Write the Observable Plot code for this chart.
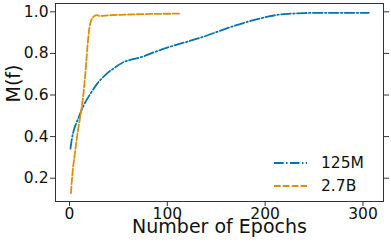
<!DOCTYPE html>
<html>
<head>
<meta charset="utf-8">
<script src="https://cdn.jsdelivr.net/npm/d3@7"></script>
<script src="https://cdn.jsdelivr.net/npm/@observablehq/plot@0.6"></script>
<style>
  html, body { margin: 0; padding: 0; background: #fff; overflow: hidden; }
  #wrap { position: relative; width: 391px; height: 247px; font-family: "DejaVu Sans", sans-serif; }
  #wrap svg.chart { position: absolute; left: 0; top: 0; max-width: none !important; width: 391px; height: 247px; }
  #legend { position: absolute; left: 273px; top: 151px; font-size: 15.5px; color: #111; }
  .row { display: flex; align-items: center; height: 23px; }
  .row svg { margin-right: 14px; }
</style>
</head>
<body>
<div id="wrap"><div id="legend"></div></div>
<script>
const seriesNames = ["125M", "2.7B"];
const colors = ["#0173b2", "#de8f05"];

const epochs125 = [1, 2.5, 4.4, 7, 9.5, 14.6, 21.5, 28.4, 36.8, 47, 56.6, 65, 75, 86, 100, 120, 140, 155, 170, 185, 195, 205, 215, 226, 240, 254, 280, 306];
const m125 = [0.342, 0.39, 0.43, 0.465, 0.494, 0.551, 0.607, 0.655, 0.697, 0.734, 0.761, 0.772, 0.785, 0.805, 0.828, 0.856, 0.885, 0.911, 0.935, 0.956, 0.968, 0.979, 0.987, 0.991, 0.994, 0.995, 0.995, 0.995];

const epochs27 = [1.5, 3, 5.5, 9, 12.3, 15, 17, 18.5, 20, 21.5, 23, 25, 28, 31, 40, 60, 85, 112];
const m27 = [0.128, 0.22, 0.32, 0.44, 0.535, 0.64, 0.75, 0.84, 0.91, 0.95, 0.968, 0.978, 0.984, 0.98, 0.983, 0.987, 0.99, 0.991];

const xTicks = [0, 100, 200, 300];
const yTicks = [0.2, 0.4, 0.6, 0.8, 1.0];

const d125 = epochs125.map((e, i) => ({epoch: e, m: m125[i]}));
const d27 = epochs27.map((e, i) => ({epoch: e, m: m27[i]}));

const font = "DejaVu Sans";
const fmt = d3.format(".1f");
const chart = Plot.plot({
  width: 391,
  height: 247,
  marginLeft: 55,
  marginRight: 8,
  marginTop: 3,
  marginBottom: 46,
  style: {fontFamily: font, background: "#fff", color: "#111"},
  x: {domain: [-14.3, 321]},
  y: {domain: [0.088, 1.04]},
  marks: [
    Plot.frame({stroke: "#333", strokeWidth: 1}),
    Plot.axisX({ticks: xTicks, tickSize: 5, label: null, tickFormat: () => "", stroke: "#333"}),
    Plot.axisY({ticks: yTicks, tickSize: 5, label: null, tickFormat: () => "", stroke: "#333"}),
    Plot.axisY({ticks: yTicks, anchor: "right", tickSize: 5, label: null, tickFormat: () => "", stroke: "#333"}),
    Plot.text(xTicks, {x: d => d, frameAnchor: "bottom", lineAnchor: "top", dy: 6, fontSize: 15.5, fill: "#111"}),
    Plot.text(yTicks, {y: d => d, text: d => fmt(d), frameAnchor: "left", textAnchor: "end", dx: -7, fontSize: 15.5, fill: "#111"}),
    Plot.line(d125, {x: "epoch", y: "m", stroke: colors[0], strokeWidth: 1.8, strokeDasharray: "9.6,2.4,1.5,2.4", curve: "monotone-x"}),
    Plot.line(d27, {x: "epoch", y: "m", stroke: colors[1], strokeWidth: 1.8, strokeDasharray: "6.6,2.3", curve: "monotone-x"}),
    Plot.text(["Number of Epochs"], {frameAnchor: "bottom", dy: 31, fontSize: 19, fill: "#111"}),
    Plot.text(["M(f)"], {frameAnchor: "left", dx: -42, rotate: -90, fontSize: 19, fill: "#111"})
  ]
});
chart.classList.add("chart");
document.getElementById("wrap").prepend(chart);

const dashes = ["9.6,2.4,1.5,2.4", "6.6,2.3"];
const legend = document.getElementById("legend");
seriesNames.forEach((name, i) => {
  const row = document.createElement("div");
  row.className = "row";
  row.innerHTML = `<svg width="34" height="6"><line x1="1" y1="3" x2="34" y2="3" stroke="${colors[i]}" stroke-width="1.8" stroke-dasharray="${dashes[i]}"/></svg><span>${name}</span>`;
  legend.appendChild(row);
});
</script>
</body>
</html>
